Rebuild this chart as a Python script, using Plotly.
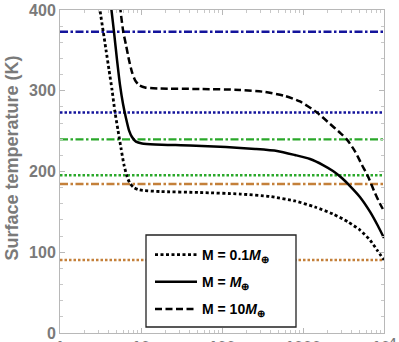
import plotly.graph_objects as go

# Planet mass cases (x: orbital distance-like abscissa on log axis, y: surface temperature in K)
x_low = [3.03, 3.12, 3.42, 3.70, 4.03, 4.39, 4.77, 5.20, 5.66, 6.17, 6.72, 7.33, 8.2, 9.3, 10.5,
         17.2, 53.5, 167, 392, 794, 1406, 2345, 3600, 5040, 6740, 8200, 10000]
t_low = [418.6, 400, 373, 350.5, 325.7, 301, 273.7, 251, 229, 208, 194, 185, 180, 177.5, 176.5,
         175.2, 174, 172.1, 169, 163.5, 156, 147.4, 137.5, 127.6, 115, 102.8, 90.4]

x_mid = [4.1, 4.32, 4.64, 5.06, 5.51, 6.0, 6.53, 7.11, 7.74, 8.67, 10.3, 14.9, 40.3, 112, 257,
         478, 794, 1220, 1766, 2345, 3020, 3810, 5040, 6740, 8430, 10000]
t_mid = [420, 400, 373, 338, 307, 283.6, 266, 251, 242.7, 237, 234.7, 233.4, 232.2, 230.3, 227.9,
         225.4, 220.4, 215.5, 208, 200.6, 192, 182, 168.5, 150, 132.5, 117.6]

x_high = [5.43, 5.58, 6.04, 6.53, 7.11, 7.74, 8.43, 9.45, 11.2, 17.2, 53.5, 167, 340, 598, 918,
          1489, 2154, 2863, 3494, 4385, 5350, 6340, 7530, 8930, 10000]
t_high = [418.6, 400, 373, 356.7, 338, 323, 313.3, 307, 304, 302.8, 302.2, 301, 298.5, 293.5, 286.7,
          273, 259, 248, 239.5, 225, 208, 194, 176, 160, 151]

# Phase-change temperatures (K): boiling / melting points
phase_values = [373.15, 273.15, 239.8, 195.4, 184.6, 90.4]
phase_colors = ["#14149c", "#14149c", "#2aa82a", "#2aa82a", "#c4803a", "#c4803a"]
phase_dashes = ["8px,2.5px,2.5px,2.5px", "2.5px,2px", "8px,2.5px,2.5px,2.5px", "2.5px,2px",
                "8px,2.5px,2.5px,2.5px", "2.5px,2px"]

x_span = [1, 10000]
tick_vals = [1, 10, 100, 1000, 10000]
tick_text = ["1", "10", "100", "1000", "10<sup>4</sup>"]

legend_labels = ["<b>M = 0.1<i>M</i><sub>⊕</sub></b>",
                 "<b>M = <i>M</i><sub>⊕</sub></b>",
                 "<b>M = 10<i>M</i><sub>⊕</sub></b>"]

fig = go.Figure()

for val, col, dash in zip(phase_values, phase_colors, phase_dashes):
    fig.add_trace(go.Scatter(x=x_span, y=[val, val], mode="lines",
                             line=dict(color=col, width=2.4, dash=dash),
                             showlegend=False, hoverinfo="skip"))

curves = [(x_low, t_low, "3px,2.5px", 2.8),
          (x_mid, t_mid, "solid", 2.5),
          (x_high, t_high, "7px,3.5px", 2.5)]
for i, ((xs, ts, dash, w), name) in enumerate(zip(curves, legend_labels)):
    fig.add_trace(go.Scatter(x=xs, y=ts, mode="lines", name=name,
                             line=dict(color="black", width=w, dash=dash,
                                       shape="spline", smoothing=0.6),
                             legendgroup=f"g{i}"))

axis_common = dict(showline=True, linecolor="#b8b8b8", linewidth=1, mirror="ticks",
                   ticks="inside", tickcolor="#b8b8b8", showgrid=False, zeroline=False,
                   tickfont=dict(family="Liberation Sans", size=16, color="#7a7a7a",
                                 weight="bold"))

fig.update_xaxes(type="log", range=[0, 4], tickvals=tick_vals, ticktext=tick_text,
                 ticklen=5, automargin=False,
                 minor=dict(ticks="inside", dtick="D1", ticklen=3, tickcolor="#c8c8c8"),
                 **axis_common)
fig.update_yaxes(range=[0, 400], dtick=100, ticklen=5, automargin=False,
                 minor=dict(ticks="inside", dtick=20, ticklen=3, tickcolor="#c8c8c8"),
                 **axis_common)

# legend frame
fig.add_shape(type="rect", xref="paper", yref="paper",
              x0=(146 - 60) / 324, x1=(296 - 60) / 324,
              y0=(333 - 327) / 323, y1=(333 - 235) / 323,
              line=dict(color="#222222", width=1.3), fillcolor="white", layer="above")

fig.add_annotation(text="<b>Surface temperature (K)</b>", textangle=-90,
                   xref="paper", yref="paper", x=(11.5 - 60) / 324, y=(333 - 158) / 323,
                   xanchor="center", yanchor="middle", showarrow=False,
                   font=dict(family="Liberation Sans", size=18, color="#7a7a7a"))

fig.update_layout(
    width=399, height=342,
    margin=dict(l=60, r=15, t=10, b=9),
    paper_bgcolor="white", plot_bgcolor="white",
    legend=dict(x=(150 - 60) / 324, y=(333 - 239) / 323, xanchor="left", yanchor="top",
                bgcolor="rgba(0,0,0,0)", borderwidth=0, itemwidth=42,
                tracegroupgap=6, traceorder="grouped",
                font=dict(family="Liberation Sans", size=14, color="black")),
)

fig.write_html("out.html")
